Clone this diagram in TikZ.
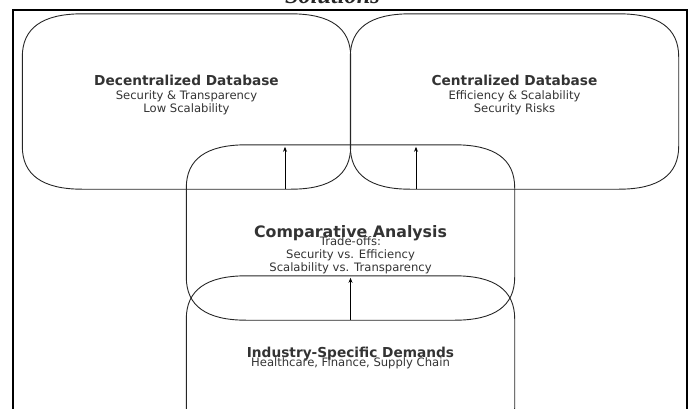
\documentclass[tikz,border=0pt]{standalone}
\usepackage{fontspec}
\setmainfont{DejaVu Sans}
\newfontfamily\headserif{Liberation Serif}
\usetikzlibrary{arrows.meta,calc}
\definecolor{ink}{HTML}{333333}
\definecolor{edge}{HTML}{262626}

% corner size of the soft boxes (horizontal / vertical)
\newcommand{\cornx}{60}
\newcommand{\corny}{43}
% outline of a box node with quadratic-looking rounded corners
\newcommand{\softbox}[1]{%
  \draw[boxline]
    ($(#1.north west)+(\cornx,0)$) -- ($(#1.north east)+(-\cornx,0)$)
    .. controls ($(#1.north east)+(-\cornx/3,0)$) and ($(#1.north east)+(0,\corny/3)$) .. ($(#1.north east)+(0,\corny)$)
    -- ($(#1.south east)+(0,-\corny)$)
    .. controls ($(#1.south east)+(0,-\corny/3)$) and ($(#1.south east)+(-\cornx/3,0)$) .. ($(#1.south east)+(-\cornx,0)$)
    -- ($(#1.south west)+(\cornx,0)$)
    .. controls ($(#1.south west)+(\cornx/3,0)$) and ($(#1.south west)+(0,-\corny/3)$) .. ($(#1.south west)+(0,-\corny)$)
    -- ($(#1.north west)+(0,\corny)$)
    .. controls ($(#1.north west)+(0,\corny/3)$) and ($(#1.north west)+(\cornx/3,0)$) .. cycle;}

\begin{document}
\begin{tikzpicture}[x=1pt,y=-1pt,
  panel/.style={minimum width=328pt, minimum height=175pt, inner sep=0pt, draw=none},
  boxline/.style={draw=edge, line width=0.9pt},
  outerframe/.style={draw=black, line width=2pt},
  flow/.style={draw=black, line width=0.8pt, -{Stealth[length=5pt,width=4pt]}},
  headline/.style={font=\fontsize{13.7}{16}\selectfont\bfseries, text=ink, inner sep=0pt, anchor=base},
  bighead/.style={font=\fontsize{15.8}{18}\selectfont\bfseries, text=ink, inner sep=0pt, anchor=base},
  detail/.style={font=\fontsize{11.6}{13}\selectfont, text=ink, inner sep=0pt, anchor=base}]

\useasboundingbox (0,0) rectangle (689,408);
\clip (0,0) rectangle (689,408);

% caption line, cut by the top edge
\node[anchor=base, font=\headserif\fontsize{24.4}{28}\selectfont\bfseries\itshape, text=black!85, inner sep=0pt]
  (caption) at (332.5,3.5) {Solutions};

% outer frame
\draw[outerframe] (12.5,10) rectangle (686.5,440);

% box placeholders
\node[panel] (dec) at (186.5,101.5) {};
\node[panel] (cen) at (514.5,101.5) {};
\node[panel] (cmp) at (350.5,232.5) {};
\node[panel] (ind) at (350.5,363.5) {};

\softbox{dec}
\softbox{cen}
\softbox{cmp}
\softbox{ind}

% connector lanes
\coordinate (lane-l) at (285,0);
\coordinate (lane-r) at (416,0);
\coordinate (lane-c) at (350.5,0);

\draw[flow] (dec.south -| lane-l) -- ($(cmp.north -| lane-l)+(0,2)$);
\draw[flow] (cen.south -| lane-r) -- ($(cmp.north -| lane-r)+(0,2)$);
\draw[flow] (cmp.south -| lane-c) -- ($(ind.north -| lane-c)+(0,2)$);

% labels
\node[headline] (dec-head) at (186.5,85) {Decentralized Database};
\node[detail] (dec-l1) at (186.5,99) {Security \& Transparency};
\node[detail] (dec-l2) at (186.5,112.5) {Low Scalability};

\node[headline] (cen-head) at (514.5,85) {Centralized Database};
\node[detail] (cen-l1) at (514.5,99) {Efficiency \& Scalability};
\node[detail] (cen-l2) at (514.5,112.5) {Security Risks};

\node[bighead] (cmp-head) at (350.5,237) {Comparative Analysis};
\node[detail] (cmp-l1) at (350.5,245) {Trade-offs:};
\node[detail] (cmp-l2) at (350.5,258) {Security vs. Efficiency};
\node[detail] (cmp-l3) at (350.5,271.3) {Scalability vs. Transparency};

\node[headline] (ind-head) at (350.5,357) {Industry-Specific Demands};
\node[detail] (ind-l1) at (350.5,366.7) {Healthcare, Finance, Supply Chain};

\end{tikzpicture}
\end{document}
